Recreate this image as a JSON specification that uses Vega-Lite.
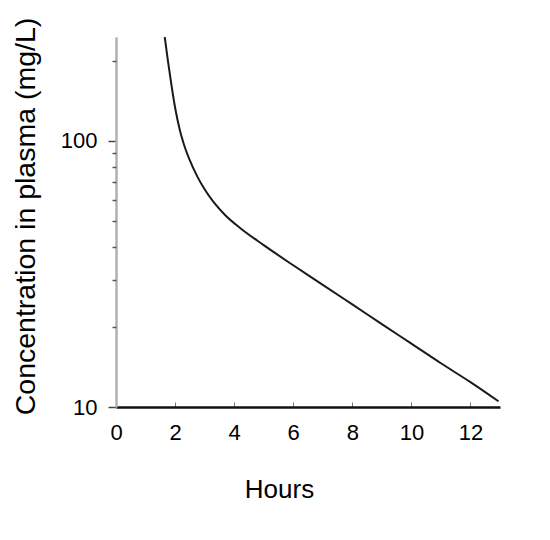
{
  "$schema": "https://vega.github.io/schema/vega-lite/v6.json",
  "width": 384,
  "height": 370,
  "autosize": "none",
  "padding": {"left": 116, "top": 37, "right": 50, "bottom": 133},
  "background": "white",
  "config": {"view": {"stroke": null}, "font": "Liberation Sans"},
  "data": {
    "values": [
      {"t": 1.65, "c": 246},
      {"t": 1.75, "c": 203},
      {"t": 1.85, "c": 170},
      {"t": 2.0, "c": 133.6},
      {"t": 2.16, "c": 110},
      {"t": 2.3, "c": 97},
      {"t": 2.5, "c": 84.5},
      {"t": 2.75, "c": 73.6},
      {"t": 3.0, "c": 65.8},
      {"t": 3.3, "c": 59},
      {"t": 3.7, "c": 52.6},
      {"t": 4.2, "c": 47.1},
      {"t": 5.0, "c": 40.6},
      {"t": 6.0, "c": 34.1},
      {"t": 7.0, "c": 28.8},
      {"t": 8.0, "c": 24.3},
      {"t": 9.0, "c": 20.5},
      {"t": 10.0, "c": 17.3},
      {"t": 11.0, "c": 14.6},
      {"t": 12.0, "c": 12.4},
      {"t": 12.95, "c": 10.5}
    ]
  },
  "layer": [
    {
      "mark": {"type": "line", "interpolate": "monotone", "color": "#1a1a1a", "strokeWidth": 2, "clip": true},
      "encoding": {
        "x": {
          "field": "t", "type": "quantitative",
          "scale": {"domain": [0, 13], "nice": false, "zero": false},
          "axis": {
            "values": [0, 2, 4, 6, 8, 10, 12],
            "title": "Hours",
            "titleFont": "Liberation Sans", "titleFontSize": 26, "titleFontWeight": "normal", "titleColor": "#000",
            "titleX": 163, "titleY": 82, "titleBaseline": "middle", "titleAlign": "center",
            "labelFontSize": 22, "labelColor": "#000", "labelPadding": 20, "labelFlush": false,
            "domainColor": "#111", "domainWidth": 2.5,
            "tickColor": "#777", "tickSize": -5, "tickWidth": 1,
            "grid": false
          }
        },
        "y": {
          "field": "c", "type": "quantitative",
          "scale": {"type": "log", "domain": [10, 246], "nice": false},
          "axis": {
            "orient": "left",
            "values": [10, 100],
            "format": "d",
            "title": "Concentration in plasma (mg/L)",
            "titleFont": "Liberation Sans", "titleFontSize": 28.5, "titleFontWeight": "normal", "titleColor": "#000",
            "titleAngle": -90, "titleX": -91, "titleY": 179, "titleBaseline": "middle", "titleAlign": "center",
            "labelFontSize": 22, "labelColor": "#000", "labelPadding": 11, "labelFlush": false,
            "domainColor": "#b0b0b0", "domainWidth": 2.5,
            "tickColor": "#444", "tickSize": 8, "tickWidth": 1.5,
            "grid": false
          }
        }
      }
    },
    {
      "mark": {"type": "line", "opacity": 0},
      "encoding": {
        "x": {"field": "t", "type": "quantitative"},
        "y": {
          "field": "c", "type": "quantitative",
          "axis": {
            "orient": "left",
            "values": [20, 30, 40, 50, 60, 70, 80, 90, 200],
            "labels": false,
            "title": null,
            "domain": false,
            "tickColor": "#555", "tickSize": 4, "tickWidth": 1.5,
            "grid": false
          }
        }
      }
    }
  ],
  "resolve": {"axis": {"y": "independent"}}
}
